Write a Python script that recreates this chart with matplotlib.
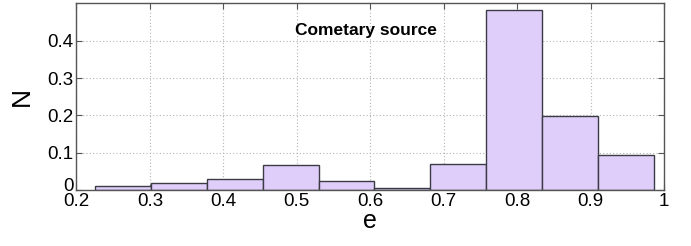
import numpy as np
import matplotlib
matplotlib.use("Agg")
from matplotlib import pyplot as plt
from matplotlib import transforms

# Histogram of eccentricity, cometary source
bin_edges = [0.2252, 0.3013, 0.3774, 0.4535, 0.5296, 0.6057,
             0.6818, 0.7579, 0.8340, 0.9101, 0.9862]
fractions = [0.010, 0.020, 0.029, 0.067, 0.023, 0.006, 0.070, 0.483, 0.198, 0.094]

x_ticks = [0.2, 0.3, 0.4, 0.5, 0.6, 0.7, 0.8, 0.9, 1.0]
x_tick_labels = ["0.2", "0.3", "0.4", "0.5", "0.6", "0.7", "0.8", "0.9", "1"]
y_ticks = [0, 0.1, 0.2, 0.3, 0.4]
y_tick_labels = ["0", "0.1", "0.2", "0.3", "0.4"]

plt.rcParams["font.family"] = ["Liberation Sans", "DejaVu Sans"]

fig = plt.figure(figsize=(6.91, 2.46), dpi=100)
ax = fig.add_axes([0.1107, 0.2276, 0.8502, 0.7582])

widths = np.diff(bin_edges)
ax.bar(bin_edges[:-1], fractions, width=widths, align="edge",
       color="#dfcdfa", edgecolor="#3c3c46", linewidth=1.0, zorder=2)

ax.set_xlim(0.2, 1.0)
ax.set_ylim(0, 0.5)
ax.set_xticks(x_ticks)
ax.set_xticklabels(x_tick_labels)
ax.set_yticks(y_ticks)
ax.set_yticklabels(y_tick_labels)

ax.grid(True, linestyle=(0, (1, 2)), color="#b4b4b4", linewidth=0.8, zorder=0)
ax.set_axisbelow(True)

ax.tick_params(direction="in", top=True, right=True, length=4, width=0.8,
               color="#555555", labelsize=13.5, pad=2.5)
ax.tick_params(axis="y", pad=2)
for s in ax.spines.values():
    s.set_color("#555555")
    s.set_linewidth(1.0)

# nudge the "0" label up a little so it sits just above "0.2"
zero_lbl = ax.get_yticklabels()[0]
zero_lbl.set_transform(zero_lbl.get_transform() +
                       transforms.ScaledTranslation(0, 4 / 72, fig.dpi_scale_trans))

ax.set_xlabel("e", fontsize=18, labelpad=-1)
ax.set_ylabel("N", fontsize=19, labelpad=10)

ax.text(0.498, 0.428, "Cometary source", fontsize=12.5, fontweight="bold",
        ha="left", va="center")

fig.savefig("out.png", dpi=100)
